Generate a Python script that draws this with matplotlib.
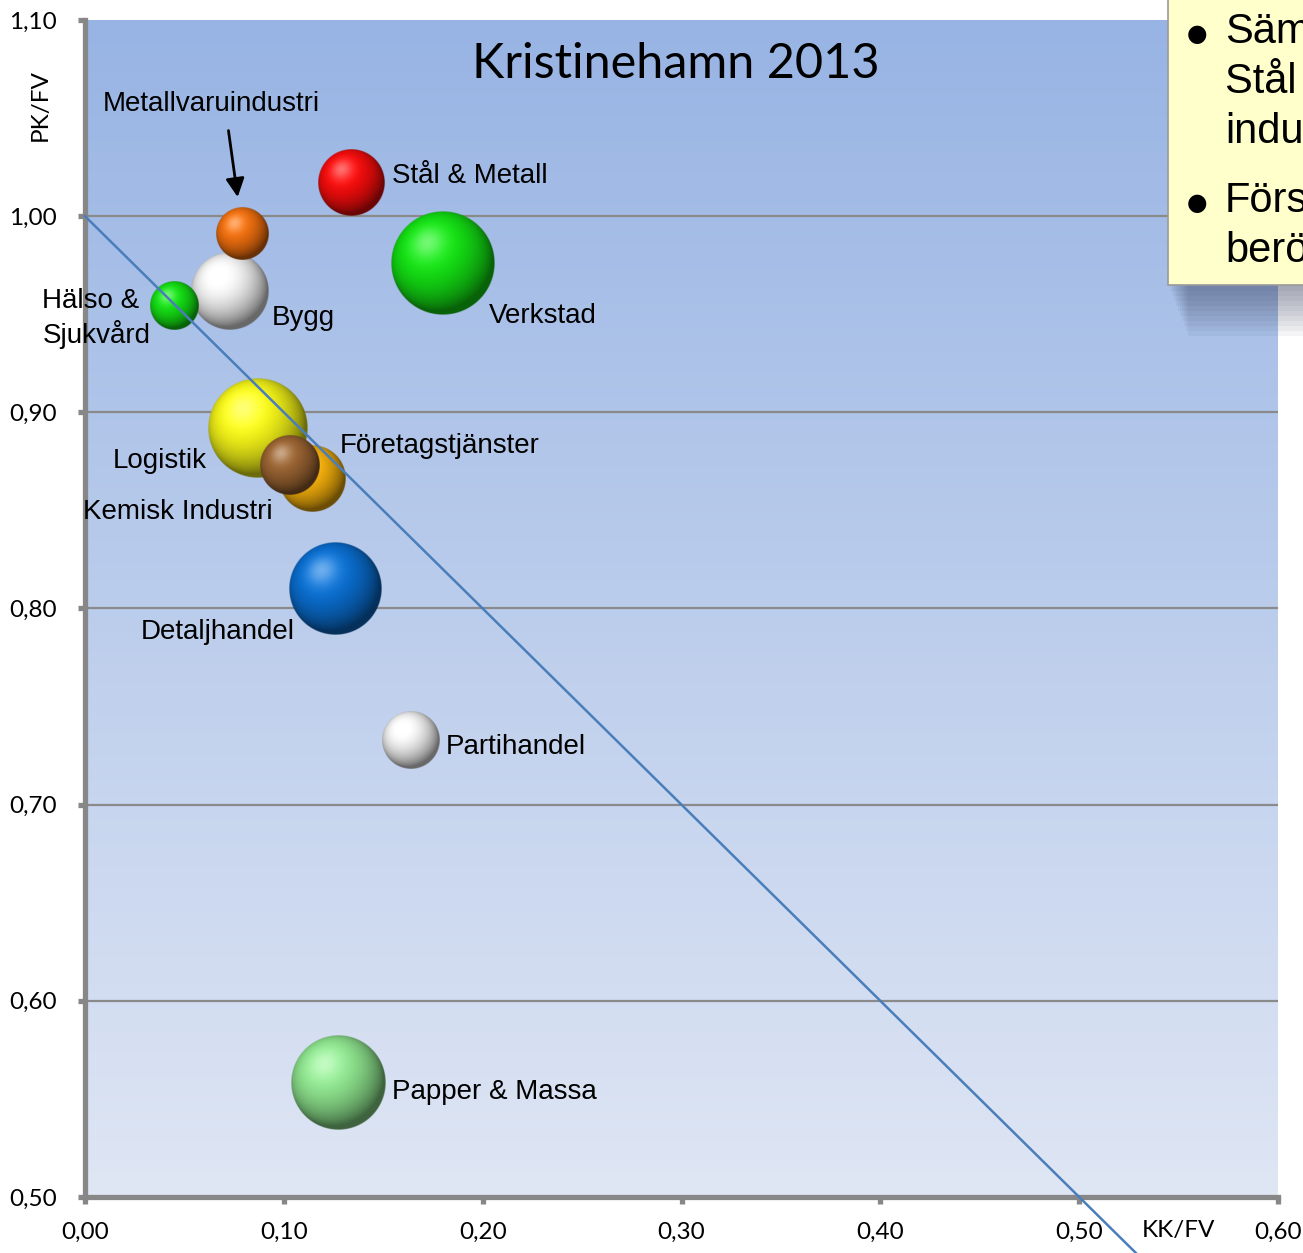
import numpy as np
import matplotlib
matplotlib.use("Agg")
import matplotlib.pyplot as plt
from matplotlib.patches import Rectangle

# ---------------- data ----------------
sectors = ["Metallvaruindustri", "Stål & Metall", "Verkstad", "Bygg", "Hälso &\nSjukvård",
           "Logistik", "Företagstjänster", "Kemisk Industri", "Detaljhandel",
           "Partihandel", "Papper & Massa"]
kk_fv = [0.079, 0.134, 0.180, 0.073, 0.045, 0.087, 0.114, 0.103, 0.126, 0.164, 0.127]
pk_fv = [0.991, 1.017, 0.976, 0.962, 0.954, 0.892, 0.866, 0.873, 0.810, 0.733, 0.558]
bubble_size = [6.8, 10.9, 27.0, 15.2, 5.8, 25.0, 10.9, 9.0, 21.2, 8.4, 22.1]

x_ticks = [0.0, 0.1, 0.2, 0.3, 0.4, 0.5, 0.6]
x_tick_labels = ["0,00", "0,10", "0,20", "0,30", "0,40", "0,50", "0,60"]
y_ticks = [0.5, 0.6, 0.7, 0.8, 0.9, 1.0, 1.1]
y_tick_labels = ["0,50", "0,60", "0,70", "0,80", "0,90", "1,00", "1,10"]

ref_line_x = [0.0, 0.53]
ref_line_y = [1.0, 0.47]

title = "Kristinehamn 2013"
note_lines = [("●", "Sämst"), ("", "Stål &"), ("", "industri"), ("●", "Försämring"), ("", "berör")]

# ---------------- styles ----------------
colors = [(0.97, 0.45, 0.06), (1.0, 0.05, 0.05), (0.08, 0.92, 0.08), (0.98, 0.98, 0.98),
          (0.08, 0.90, 0.08), (1.0, 1.0, 0.10), (1.0, 0.72, 0.05), (0.62, 0.40, 0.20),
          (0.04, 0.45, 0.85), (0.98, 0.98, 0.98), (0.58, 0.93, 0.58)]
# label offsets in pixels (dx, dy) from bubble centre
label_offsets = [(-139, 130), (41, 7), (46, -53), (42, -27), (-132, -12), (-145, -33),
                 (28, 33), (-207, -47), (-195, -43), (35, -7), (54, -9)]

W, H, DPI = 1303, 1253, 100
fig = plt.figure(figsize=(W / DPI, H / DPI), dpi=DPI)
ax = fig.add_axes([85 / W, (H - 1197) / H, (1278 - 85) / W, (1197 - 20) / H])
ax.set_xlim(0, 0.6)
ax.set_ylim(0.5, 1.1)

# gradient background
top = np.array([0.596, 0.706, 0.894])
bot = np.array([0.875, 0.902, 0.957])
t = np.linspace(0, 1, 256)[:, None]
grad = (top * (1 - t) + bot * t)[:, None, :]
ax.imshow(grad, extent=[0, 1, 0, 1], transform=ax.transAxes, aspect="auto", zorder=0)
ax.set_xlim(0, 0.6)
ax.set_ylim(0.5, 1.1)

for yv in y_ticks[1:-1]:
    ax.axhline(yv, color="#8a8a8a", lw=1.6, zorder=1)

# spines and ticks
for s in ["top", "right"]:
    ax.spines[s].set_visible(False)
for s in ["left", "bottom"]:
    ax.spines[s].set_color("#878787")
    ax.spines[s].set_linewidth(3.8)
    ax.spines[s].set_zorder(3)
ax.set_xticks(x_ticks)
ax.set_xticklabels(x_tick_labels, fontfamily="Lato", fontsize=17.5)
ax.set_yticks(y_ticks)
ax.set_yticklabels(y_tick_labels, fontfamily="Lato", fontsize=17.5)
ax.tick_params(axis="both", direction="out", length=5, width=3.8, color="#878787")
ax.tick_params(axis="x", pad=13)
ax.tick_params(axis="y", pad=15)

# pixel scale
axw = (1278 - 85)
axh = (1197 - 20)
ppx = axw / 0.6
ppy = axh / 0.6


def sphere_img(color, n=240):
    yy, xx = np.mgrid[1:-1:n * 1j, -1:1:n * 1j]
    r2 = xx ** 2 + yy ** 2
    r = np.sqrt(r2)
    z = np.sqrt(np.clip(1 - r2, 0, 1))
    L = np.array([-0.3, 0.4, 0.87])
    L = L / np.linalg.norm(L)
    d = np.clip(xx * L[0] + yy * L[1] + z * L[2], 0, 1)
    base = np.array(color)
    col = base[None, None, :] * (0.42 + 0.62 * d[..., None])
    spec = (d ** 18)[..., None] * 0.40
    col = col + spec * (1 - col)
    col = np.clip(col, 0, 1)
    alpha = np.clip((1 - r) * n / 2, 0, 1)
    return np.dstack([col, alpha])


order = np.argsort(bubble_size)[::-1]
for k, i in enumerate(order):
    rpx = 10 * np.sqrt(bubble_size[i])
    rx, ry = rpx / ppx, rpx / ppy
    x, y = kk_fv[i], pk_fv[i]
    ax.imshow(sphere_img(colors[i]), extent=[x - rx, x + rx, y - ry, y + ry],
              aspect="auto", interpolation="bilinear", zorder=5 + k)
ax.set_xlim(0, 0.6)
ax.set_ylim(0.5, 1.1)

# reference line
ax.plot(ref_line_x, ref_line_y, color="#4a7ebb", lw=1.8, zorder=30, clip_on=False)

# labels
for i, name in enumerate(sectors):
    dx, dy = label_offsets[i]
    ax.annotate(name, xy=(kk_fv[i], pk_fv[i]), xytext=(dx, dy), textcoords="offset pixels",
                ha="left", va="center", fontsize=20, fontfamily="Liberation Sans",
                color="black", zorder=31, linespacing=1.25)

# arrow for Metallvaruindustri
i0 = 0
ax.annotate("", xy=(kk_fv[i0] - 4 / ppx, pk_fv[i0] + 34 / ppy),
            xytext=(kk_fv[i0] - 14 / ppx, pk_fv[i0] + 106 / ppy),
            arrowprops=dict(arrowstyle="-|>", color="black", lw=2, mutation_scale=28),
            zorder=31)

# title
ax.text(0.4954, 0.963, title, transform=ax.transAxes, ha="center", va="center",
        fontsize=35, fontfamily="Lato", zorder=32)

# axis labels
fig.text(1178 / W, 1 - 1231 / H, "KK/FV", ha="center", va="center", fontsize=17.5, fontfamily="Lato")
fig.text(40 / W, 1 - 105 / H, "PK/FV", ha="center", va="center", fontsize=17.5, fontfamily="Lato",
         rotation=90)

# note box with shadow
for j in range(10):
    a = 0.05
    fig.patches.append(Rectangle(((1170 + j * 2) / W, (H - 285 - 6 - j * 5) / H), (W - 1170) / W,
                                 (6 + j * 5) / H, transform=fig.transFigure,
                                 facecolor="#303a55", alpha=a, edgecolor="none", zorder=40))
fig.patches.append(Rectangle((1168 / W, (H - 285) / H), (W - 1168 + 20) / W, 300 / H,
                             transform=fig.transFigure, facecolor="#ffffcc",
                             edgecolor="#9a9a9a", lw=1.2, zorder=41))
ys = [32, 82, 132, 201, 251]
for (b, txt), yp in zip(note_lines, ys):
    if b:
        fig.text(1187 / W, 1 - (yp + 2) / H, b, ha="left", va="center", fontsize=17,
                 fontfamily=["DejaVu Sans"], zorder=42)
    fig.text(1225 / W, 1 - yp / H, txt, ha="left", va="center", fontsize=30,
             fontfamily="Liberation Sans", zorder=42)

fig.savefig("out.png", dpi=DPI)
